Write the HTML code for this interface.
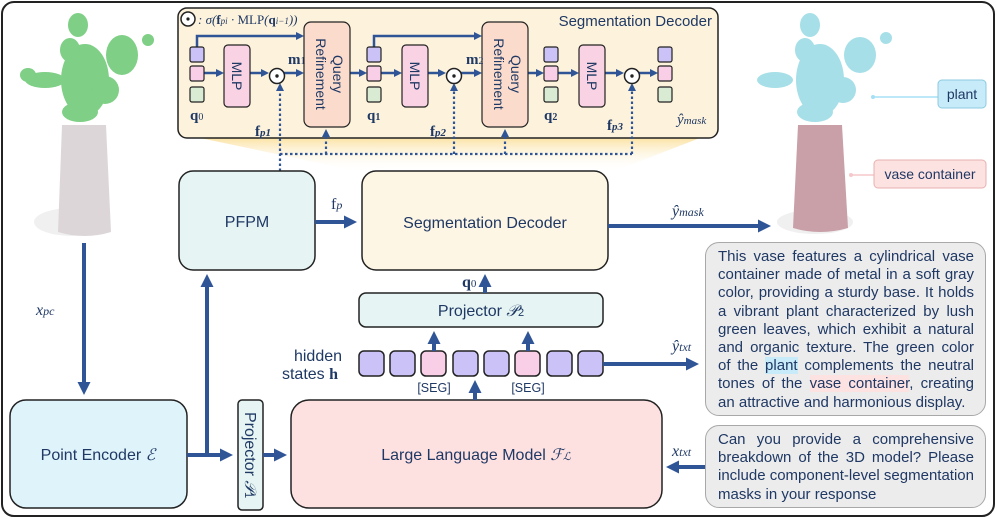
<!DOCTYPE html>
<html><head><meta charset="utf-8"><style>
body{margin:0;background:#fff;}
#w{position:relative;width:997px;height:519px;overflow:hidden;font-family:"Liberation Sans",sans-serif;color:#1f3864;}
.tb{position:absolute;background:#ececec;border:1.5px solid #a8a8a8;border-radius:14px;font-size:15px;line-height:18.2px;text-align:justify;padding:5px 11px 0 12px;box-sizing:border-box;color:#1f3864;}
.tb p{margin:0;text-align-last:left}
svg{font-family:"Liberation Sans",sans-serif}
svg text{fill:#1f3864}
.m{font-family:"Liberation Serif",serif;font-style:italic}
.b{font-family:"Liberation Serif",serif;font-weight:bold;font-style:normal}
</style></head><body><div id="w">
<svg width="997" height="519" viewBox="0 0 997 519" xmlns="http://www.w3.org/2000/svg">
<defs>
<marker id="s" markerWidth="8" markerHeight="8" refX="5" refY="4" orient="auto" markerUnits="userSpaceOnUse"><path d="M0,0 L8,4 L0,8 z" fill="#2f5597"/></marker>
<marker id="L" markerWidth="13" markerHeight="13" refX="8" refY="6.5" orient="auto" markerUnits="userSpaceOnUse"><path d="M0,0 L13,6.5 L0,13 z" fill="#2f5597"/></marker>
<linearGradient id="g" x1="0" y1="0" x2="0" y2="1"><stop offset="0" stop-color="#fbe3a6"/><stop offset="1" stop-color="#fff" stop-opacity="0"/></linearGradient>
</defs>
<rect x="2" y="2" width="992" height="514" rx="12" fill="#fff" stroke="#222" stroke-width="2"/>
<!-- left point cloud -->
<ellipse cx="72" cy="222" rx="38" ry="14" fill="#f0f0f0"/>
<path d="M62,125 L106,125 L111,232 Q85,240 58,232 Z" fill="#ddd6d8"/>
<g fill="#7fcf86">
<ellipse cx="85" cy="80" rx="24" ry="36"/><ellipse cx="78" cy="25" rx="10" ry="12"/><ellipse cx="122" cy="55" rx="16" ry="20"/><ellipse cx="45" cy="80" rx="20" ry="8"/><ellipse cx="80" cy="112" rx="18" ry="10"/><ellipse cx="105" cy="90" rx="14" ry="14"/><ellipse cx="148" cy="40" rx="6" ry="6"/><ellipse cx="28" cy="75" rx="8" ry="7"/><ellipse cx="70" cy="50" rx="10" ry="12"/>
</g>
<!-- right point cloud -->
<ellipse cx="815" cy="222" rx="38" ry="12" fill="#f0f0f0"/>
<path d="M798,125 L842,125 L848,228 Q820,236 793,228 Z" fill="#c9a0a8"/>
<g fill="#a6dfe8">
<ellipse cx="820" cy="80" rx="24" ry="36"/><ellipse cx="810" cy="25" rx="10" ry="12"/><ellipse cx="860" cy="55" rx="16" ry="18"/><ellipse cx="775" cy="80" rx="18" ry="8"/><ellipse cx="815" cy="112" rx="18" ry="10"/><ellipse cx="843" cy="90" rx="13" ry="13"/><ellipse cx="886" cy="38" rx="6" ry="6"/><ellipse cx="805" cy="50" rx="10" ry="12"/>
</g>
<line x1="873" y1="97" x2="938" y2="97" stroke="#a6e0f5" stroke-width="1.5"/><circle cx="873" cy="97" r="2" fill="#a6e0f5"/>
<line x1="851" y1="175" x2="874" y2="175" stroke="#f6c8cc" stroke-width="1.5"/><circle cx="851" cy="175" r="2" fill="#f6c8cc"/>
<rect x="938" y="80" width="48" height="28" rx="4" fill="#c7ebf9" stroke="#8ccbe0"/>
<text x="962" y="99" font-size="14" text-anchor="middle">plant</text>
<rect x="874" y="160" width="112" height="28" rx="4" fill="#fde2e2" stroke="#e8b0b0"/>
<text x="930" y="179" font-size="14" text-anchor="middle">vase container</text>
<path d="M200,138 L700,138 L612,172 L362,172 Z" fill="url(#g)"/>
<rect x="178" y="8" width="540" height="130" rx="9" fill="#fdf3dc" stroke="#222" stroke-width="1.5"/>
<circle cx="188" cy="19" r="7" fill="#fff" stroke="#222" stroke-width="1.5"/><circle cx="188" cy="19" r="1.6" fill="#222"/>
<text x="198" y="24" font-size="13" class="m">: σ(<tspan class="b">f</tspan><tspan font-size="9">pi</tspan> · <tspan font-style="normal">MLP</tspan>(<tspan class="b">q</tspan><tspan font-size="9">i−1</tspan>))</text>
<text x="712" y="26" font-size="15" text-anchor="end">Segmentation Decoder</text>
<g stroke="#2f5597" stroke-width="2.5" fill="none">
<path d="M197,47 V36 H301" marker-end="url(#s)"/><path d="M374,47 V36 H479" marker-end="url(#s)"/>
<path d="M204,73 H221" marker-end="url(#s)"/><path d="M250,73 H266" marker-end="url(#s)"/><path d="M284,73 H301" marker-end="url(#s)"/>
<path d="M350,73 H364" marker-end="url(#s)"/><path d="M381,73 H399" marker-end="url(#s)"/><path d="M428,73 H443" marker-end="url(#s)"/><path d="M461,73 H479" marker-end="url(#s)"/>
<path d="M528,73 H541" marker-end="url(#s)"/><path d="M558,73 H576" marker-end="url(#s)"/><path d="M605,73 H621" marker-end="url(#s)"/><path d="M639,73 H655" marker-end="url(#s)"/>
</g>
<g stroke="#2f5597" stroke-width="2.2" fill="none" stroke-dasharray="2.5,2.5">
<path d="M280,171 V86" marker-end="url(#s)"/><path d="M280,154 H632"/>
<path d="M326,154 V132" marker-end="url(#s)"/><path d="M454,154 V86" marker-end="url(#s)"/><path d="M505,154 V132" marker-end="url(#s)"/><path d="M632,154 V86" marker-end="url(#s)"/>
</g>
<g stroke="#222" stroke-width="1.2">
<rect x="190" y="47" width="14" height="15" rx="2" fill="#cbc3f7"/><rect x="190" y="66" width="14" height="15" rx="2" fill="#f9cfe8"/><rect x="190" y="87" width="14" height="15" rx="2" fill="#d9ebd3"/>
<rect x="367" y="47" width="14" height="15" rx="2" fill="#cbc3f7"/><rect x="367" y="66" width="14" height="15" rx="2" fill="#f9cfe8"/><rect x="367" y="87" width="14" height="15" rx="2" fill="#d9ebd3"/>
<rect x="544" y="47" width="14" height="15" rx="2" fill="#cbc3f7"/><rect x="544" y="66" width="14" height="15" rx="2" fill="#f9cfe8"/><rect x="544" y="87" width="14" height="15" rx="2" fill="#d9ebd3"/>
<rect x="658" y="47" width="14" height="15" rx="2" fill="#cbc3f7"/><rect x="658" y="66" width="14" height="15" rx="2" fill="#f9cfe8"/><rect x="658" y="87" width="14" height="15" rx="2" fill="#d9ebd3"/>
<rect x="224" y="45" width="26" height="62" rx="4" fill="#f9d3e3"/><rect x="402" y="45" width="26" height="62" rx="4" fill="#f9d3e3"/><rect x="579" y="45" width="26" height="62" rx="4" fill="#f9d3e3"/>
<rect x="304" y="22" width="46" height="105" rx="7" fill="#fbdccc"/><rect x="482" y="22" width="46" height="105" rx="7" fill="#fbdccc"/>
</g>
<g stroke="#222" stroke-width="1.5" fill="#fff"><circle cx="277" cy="76" r="7.5"/><circle cx="454" cy="76" r="7.5"/><circle cx="632" cy="76" r="7.5"/></g>
<g fill="#222"><circle cx="277" cy="76" r="1.7"/><circle cx="454" cy="76" r="1.7"/><circle cx="632" cy="76" r="1.7"/></g>
<g font-size="14">
<text transform="translate(232,76) rotate(90)" text-anchor="middle">MLP</text>
<text transform="translate(410,76) rotate(90)" text-anchor="middle">MLP</text>
<text transform="translate(587,76) rotate(90)" text-anchor="middle">MLP</text>
<text transform="translate(333,74) rotate(90)" text-anchor="middle">Query</text><text transform="translate(316,74) rotate(90)" text-anchor="middle">Refinement</text>
<text transform="translate(511,74) rotate(90)" text-anchor="middle">Query</text><text transform="translate(494,74) rotate(90)" text-anchor="middle">Refinement</text>
</g>
<g font-size="15" class="b">
<text x="190" y="120" class="b">q<tspan font-size="10" font-weight="normal">0</tspan></text>
<text x="367" y="120" class="b">q<tspan font-size="10">1</tspan></text>
<text x="544" y="120" class="b">q<tspan font-size="10">2</tspan></text>
<text x="288" y="64" class="b">m<tspan font-size="10" font-weight="normal">1</tspan></text>
<text x="466" y="64" class="b">m<tspan font-size="10" font-weight="normal">2</tspan></text>
<text x="255" y="136" class="b">f<tspan font-size="11" font-style="italic">p1</tspan></text>
<text x="430" y="136" class="b">f<tspan font-size="11" font-style="italic">p2</tspan></text>
<text x="607" y="130" class="b">f<tspan font-size="11" font-style="italic">p3</tspan></text>
<text x="677" y="124" class="m" font-weight="normal">ŷ<tspan font-size="11">mask</tspan></text>
</g>
<g stroke="#222" stroke-width="1.5">
<rect x="179" y="171" width="136" height="99" rx="14" fill="#e6f4f4"/>
<rect x="362" y="171" width="246" height="99" rx="14" fill="#fef6e4"/>
<rect x="359" y="293" width="244" height="34" rx="7" fill="#e6f5f3"/>
<rect x="291" y="400" width="371" height="108" rx="18" fill="#fde0e0"/>
<rect x="238" y="400" width="25" height="110" rx="4" fill="#e6f5f3"/>
<rect x="10" y="400" width="177" height="108" rx="16" fill="#dff3fb"/>
<rect x="359" y="351" width="25" height="25" rx="5" fill="#cbc3f7"/>
<rect x="390" y="351" width="25" height="25" rx="5" fill="#cbc3f7"/>
<rect x="421" y="351" width="25" height="25" rx="5" fill="#f9cfe8"/>
<rect x="453" y="351" width="25" height="25" rx="5" fill="#cbc3f7"/>
<rect x="484" y="351" width="25" height="25" rx="5" fill="#cbc3f7"/>
<rect x="515" y="351" width="25" height="25" rx="5" fill="#f9cfe8"/>
<rect x="547" y="351" width="25" height="25" rx="5" fill="#cbc3f7"/>
<rect x="578" y="351" width="25" height="25" rx="5" fill="#cbc3f7"/>
</g>
<g stroke="#2f5597" stroke-width="4" fill="none">
<path d="M315,222 H352" marker-end="url(#L)"/>
<path d="M608,226 H766" marker-end="url(#L)"/>
<path d="M485,293 V279" marker-end="url(#L)"/>
<path d="M434,351 V336" marker-end="url(#L)"/><path d="M528,351 V336" marker-end="url(#L)"/>
<path d="M475,400 V385" marker-end="url(#L)"/>
<path d="M603,364 H694" marker-end="url(#L)"/>
<path d="M705,467 H671" marker-end="url(#L)"/>
<path d="M84,243 V390" marker-end="url(#L)"/>
<path d="M187,455 H228" marker-end="url(#L)"/>
<path d="M207,455 V279" marker-end="url(#L)"/>
<path d="M263,455 H282" marker-end="url(#L)"/>
</g>
<g font-size="16">
<text x="247" y="227" text-anchor="middle">PFPM</text>
<text x="485" y="228" text-anchor="middle">Segmentation Decoder</text>
<text x="481" y="316" text-anchor="middle">Projector <tspan class="m">𝒫</tspan><tspan font-size="11">2</tspan></text>
<text x="476" y="460" text-anchor="middle">Large Language Model <tspan class="m">ℱ</tspan><tspan font-size="11" class="m">ℒ</tspan></text>
<text x="98" y="460" text-anchor="middle">Point Encoder <tspan class="m">ℰ</tspan></text>
<text transform="translate(245,455) rotate(90)" text-anchor="middle">Projector <tspan class="m">𝒫</tspan><tspan font-size="11">1</tspan></text>
<text x="318" y="361" text-anchor="middle">hidden</text>
<text x="310" y="379" text-anchor="middle">states <tspan class="b">h</tspan></text>
</g>
<g font-size="12.5"><text x="434" y="392" text-anchor="middle">[SEG]</text><text x="528" y="392" text-anchor="middle">[SEG]</text></g>
<g font-size="16">
<text x="331" y="209" class="b" font-weight="normal" style="font-weight:normal">f<tspan font-size="12" class="m">p</tspan></text>
<text x="672" y="216" class="m">ŷ<tspan font-size="12">mask</tspan></text>
<text x="462" y="287" class="b">q<tspan font-size="11" font-weight="normal">0</tspan></text>
<text x="672" y="351" class="m">ŷ<tspan font-size="12">txt</tspan></text>
<text x="672" y="456" class="m">x<tspan font-size="12">txt</tspan></text>
<text x="36" y="315" class="m">x<tspan font-size="12">pc</tspan></text>
</g>
</svg>
<div class="tb" style="left:705px;top:242px;width:281px;height:174px;"><p>This vase features a cylindrical vase container made of metal in a soft gray color, providing a sturdy base. It holds a vibrant plant characterized by lush green leaves, which exhibit a natural and organic texture. The green color of the <span style="background:#c7ebf9">plant</span> complements the neutral tones of the <span style="background:#fde2e2">vase container</span>, creating an attractive and harmonious display.</p></div>
<div class="tb" style="left:705px;top:425px;width:281px;height:83px;"><p>Can you provide a comprehensive breakdown of the 3D model? Please include component-level segmentation masks in your response</p></div>
</div></body></html>
